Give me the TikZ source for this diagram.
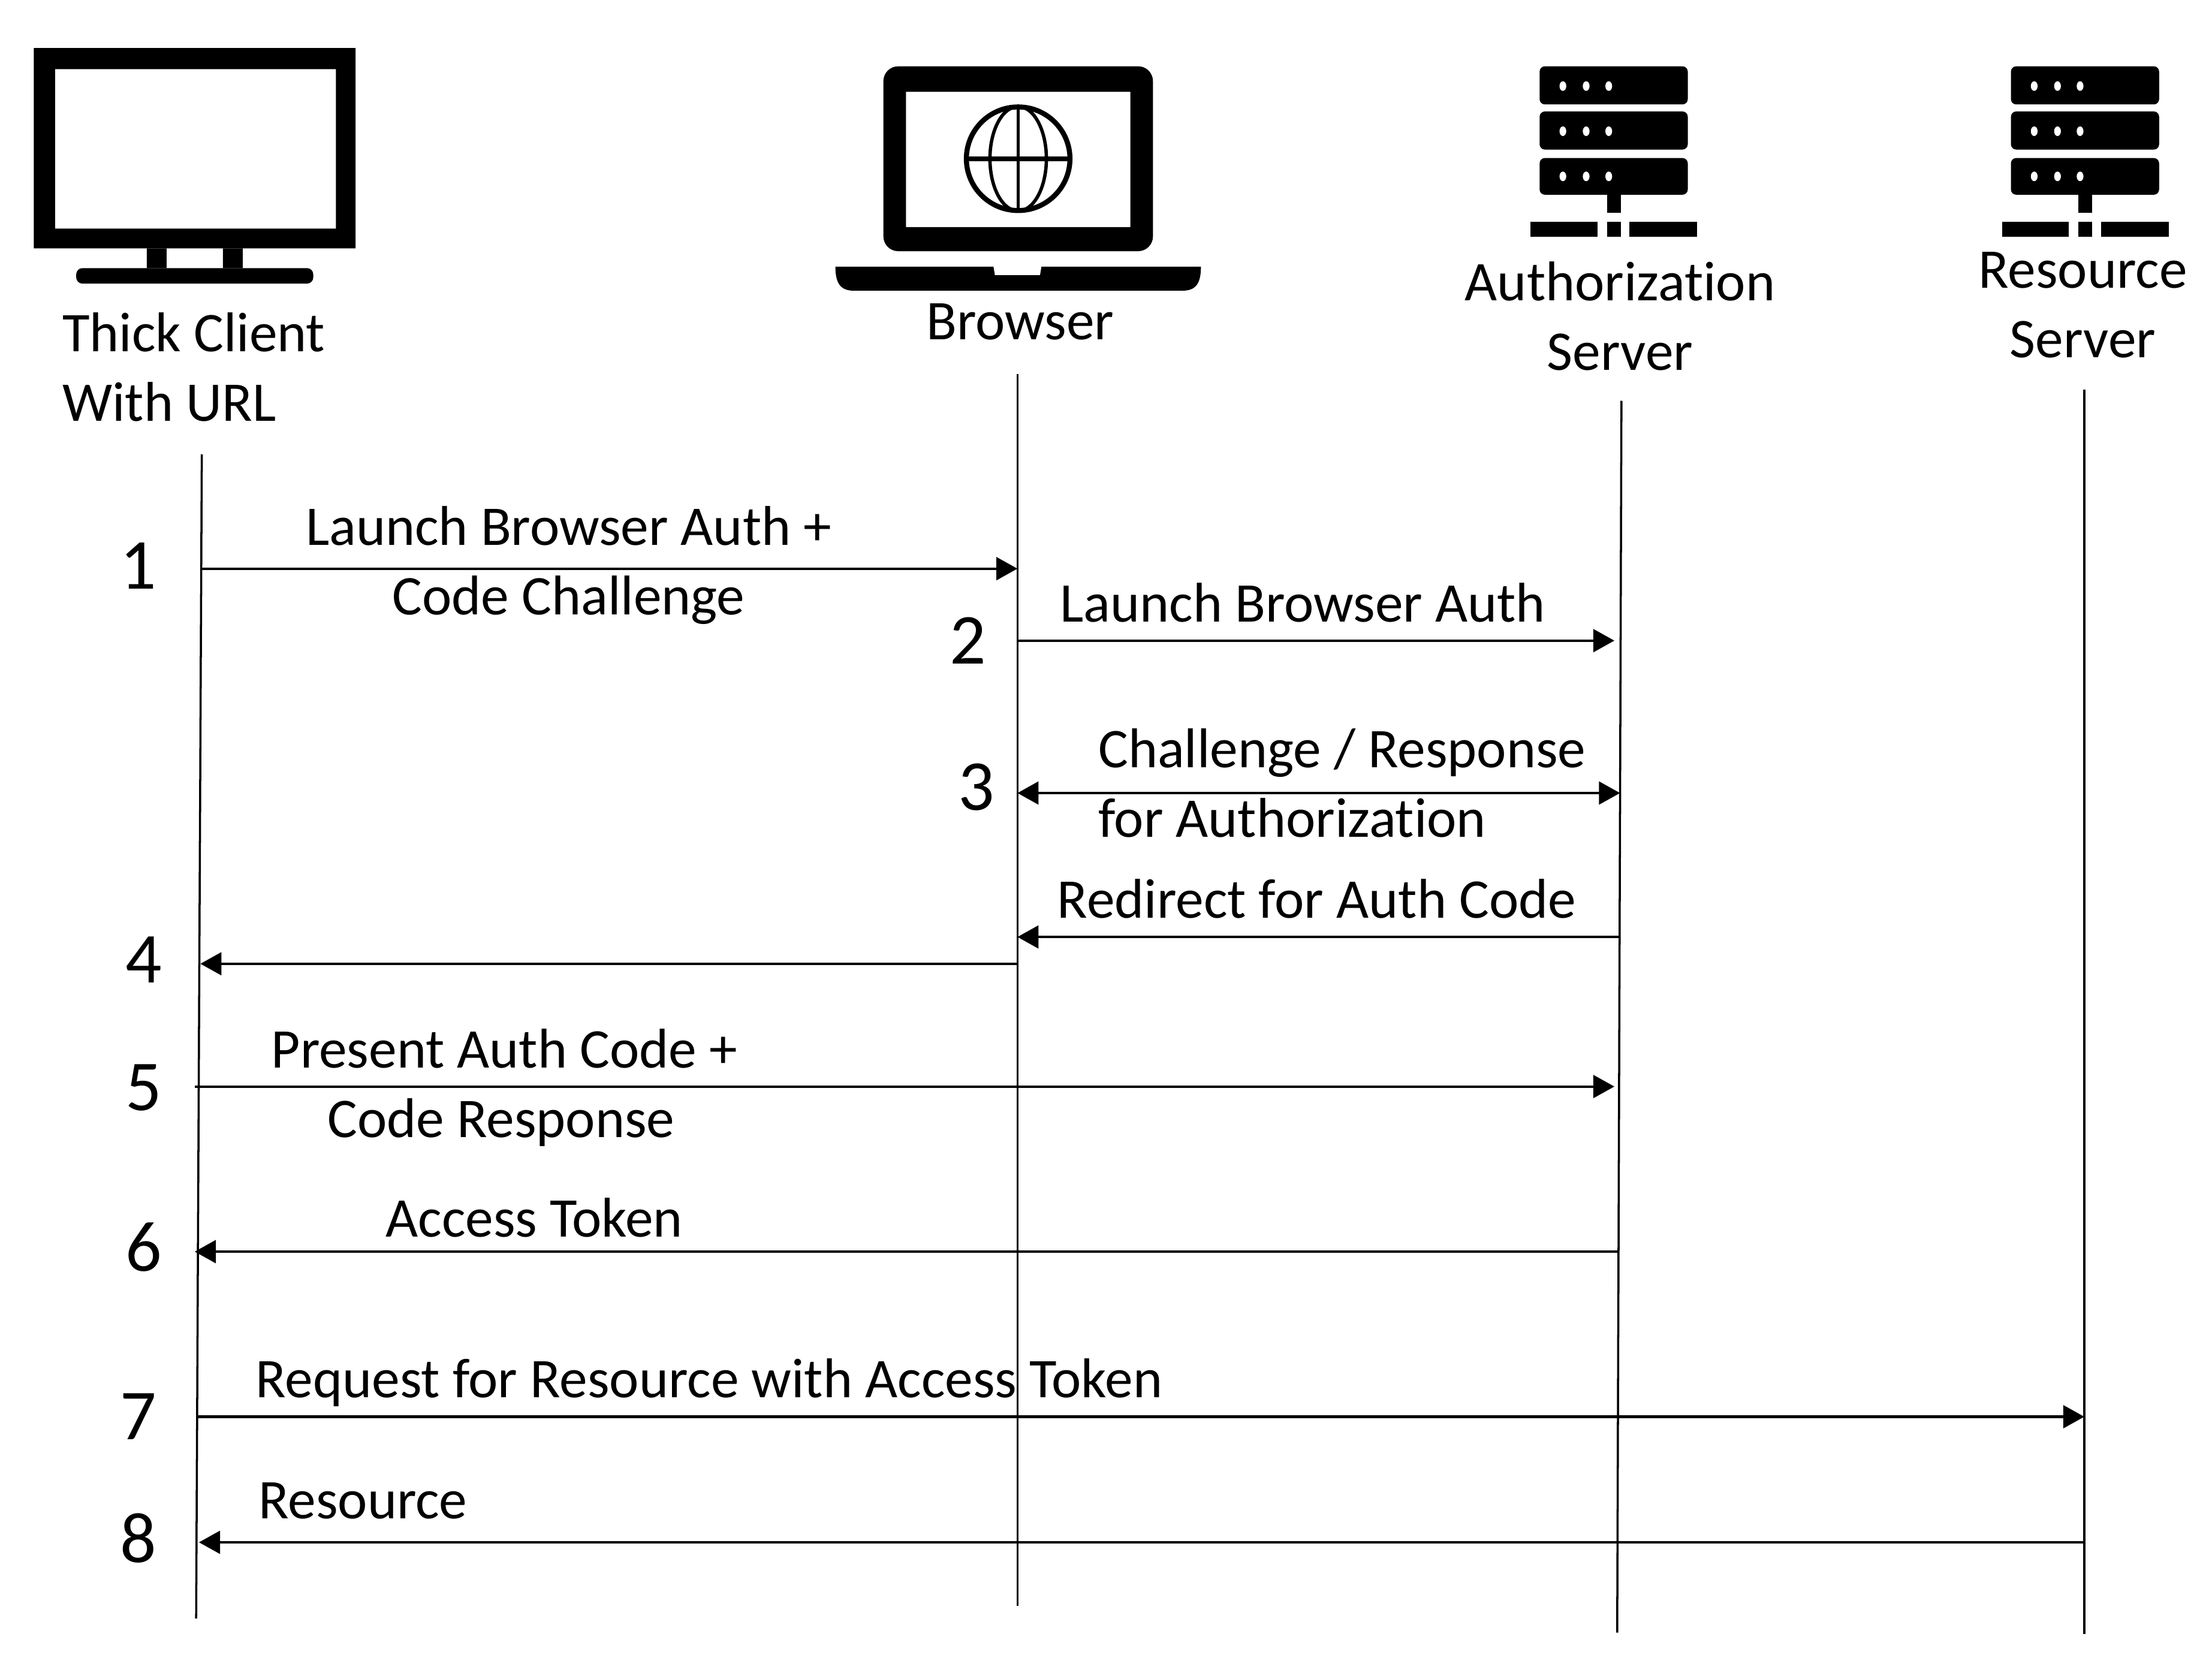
\documentclass[tikz,border=0pt]{standalone}
\usepackage{fontspec}
\setmainfont[Ligatures=NoCommon]{Carlito}
\usetikzlibrary{arrows.meta}
\tikzset{
  msg/.style={-{Triangle[length=10pt,width=10.8pt]},line width=1.2pt},
  msgboth/.style={{Triangle[length=10pt,width=10.8pt]}-{Triangle[length=10pt,width=10.8pt]},line width=1.2pt},
  life/.style={line width=1pt},
  lbl/.style={inner sep=0pt,font=\fontsize{26.6}{33}\selectfont,align=left,anchor=west},
  num/.style={inner sep=0pt,font=\fontsize{34}{40}\selectfont},
  server/.pic={
    \fill[rounded corners=2.5] (0,0) rectangle (105,27);
    \fill[rounded corners=2.5] (0,32) rectangle (105,59);
    \fill[rounded corners=2.5] (0,65) rectangle (105,91);
    \fill (47.7,91) rectangle (57.5,104);
    \fill (-6.4,110) rectangle (41,121);
    \fill (47.7,110) rectangle (57.5,121);
    \fill (63.7,110) rectangle (111.7,121);
    \fill[white] (16.5,14) ellipse (2.4 and 3.4) (33,14) ellipse (2.4 and 3.4) (49,14) ellipse (2.4 and 3.4);
    \fill[white] (16.5,46) ellipse (2.4 and 3.4) (33,46) ellipse (2.4 and 3.4) (49,46) ellipse (2.4 and 3.4);
    \fill[white] (16.5,78) ellipse (2.4 and 3.4) (33,78) ellipse (2.4 and 3.4) (49,78) ellipse (2.4 and 3.4);
  }
}
\begin{document}
\begin{tikzpicture}[x=0.02354cm,y=-0.02354cm]
  \useasboundingbox (0,0) rectangle (1567.5,1172.5);

  % monitor
  \fill[even odd rule] (24,34) rectangle (252,176) (39,49) rectangle (238,162);
  \fill (104,176) rectangle (118,190) (158,176) rectangle (172,190);
  \fill[rounded corners=3] (54,190) rectangle (222,201);

  % laptop
  \fill[even odd rule,rounded corners=7] (626,178) -- (626,47) -- (817,47) -- (817,178) -- cycle
    [sharp corners] (642,65) rectangle (801,161);
  \fill (592,189) -- (704,189) -- (705,195) -- (737,195) -- (738,189) -- (851,189)
    .. controls (851,200) and (848,206) .. (838,206) -- (605,206)
    .. controls (595,206) and (592,200) .. (592,189) -- cycle;
  \draw[line width=2.4pt] (721.5,112.5) circle (36.7);
  \draw[line width=1.6pt] (721.5,112.5) ellipse (20 and 37);
  \draw[line width=1.6pt] (721.5,75) -- (721.5,150);
  \draw[line width=2.2pt] (684,112.5) -- (759,112.5);

  % servers
  \pic at (1091,47) {server};
  \pic at (1425,47) {server};

  % titles
  \node[lbl] (client) at (44,260) {Thick Client\\With URL};
  \node[lbl,align=center,anchor=center] (browser) at (723,228) {Browser};
  \node[lbl,align=center,anchor=center] (auth) at (1148,224) {Authorization\\Server};
  \node[lbl,align=center,anchor=center] (res) at (1476,216) {Resource\\Server};

  % lifelines
  \coordinate (cT) at (143,322);
  \coordinate (cB) at (139,1147);
  \coordinate (bT) at (721,265);
  \coordinate (bB) at (721,1138);
  \coordinate (aT) at (1149,284);
  \coordinate (aB) at (1146,1157);
  \coordinate (rT) at (1477,276);
  \coordinate (rB) at (1477,1158);
  \draw[life] (cT) -- (cB);
  \draw[life] (bT) -- (bB);
  \draw[life] (aT) -- (aB);
  \draw[life] (rT) -- (rB);

  % message ends
  \coordinate (c1) at (143,403);
  \coordinate (b1) at (721,403);
  \coordinate (b2) at (721,454);
  \coordinate (a2) at (1144,454);
  \coordinate (b3) at (721,562);
  \coordinate (a3) at (1148,562);
  \coordinate (a4) at (1148,664);
  \coordinate (b4) at (721,664);
  \coordinate (b5) at (721,683);
  \coordinate (c5) at (142,683);
  \coordinate (c6) at (138,770);
  \coordinate (a6) at (1144,770);
  \coordinate (a7) at (1147,887);
  \coordinate (c7) at (138,887);
  \coordinate (c8) at (140,1004);
  \coordinate (r8) at (1477,1004);
  \coordinate (r9) at (1477,1093);
  \coordinate (c9) at (141,1093);

  \draw[msg] (c1) -- (b1);
  \draw[msg] (b2) -- (a2);
  \draw[msgboth] (b3) -- (a3);
  \draw[msg] (a4) -- (b4);
  \draw[msg] (b5) -- (c5);
  \draw[msg] (c6) -- (a6);
  \draw[msg] (a7) -- (c7);
  \draw[msg] (c8) -- (r8);
  \draw[msg] (r9) -- (c9);

  % message labels
  \node[lbl,align=center,anchor=center] (m1) at (403,400.5) {Launch Browser Auth +\\Code Challenge};
  \node[lbl] (m2) at (751,427) {Launch Browser Auth};
  \node[lbl] (m3) at (778,555) {Challenge / Response\\for Authorization};
  \node[lbl] (m4) at (749,637) {Redirect for Auth Code};
  \node[lbl] (m5) at (192,771) {Present Auth Code +\\\hspace*{0.94cm}Code Response};
  \node[lbl] (m6) at (273,863) {Access Token};
  \node[lbl] (m7) at (181,980) {Request for Resource with Access Token};
  \node[lbl] (m8) at (183,1063.5) {Resource};

  % step numbers
  \node[num] (n1) at (98,401) {1};
  \node[num] (n2) at (686,454) {2};
  \node[num] (n3) at (692,558) {3};
  \node[num] (n4) at (102,680) {4};
  \node[num] (n5) at (102,771) {5};
  \node[num] (n6) at (102,884) {6};
  \node[num] (n7) at (98,1004) {7};
  \node[num] (n8) at (98,1090) {8};
\end{tikzpicture}
\end{document}
